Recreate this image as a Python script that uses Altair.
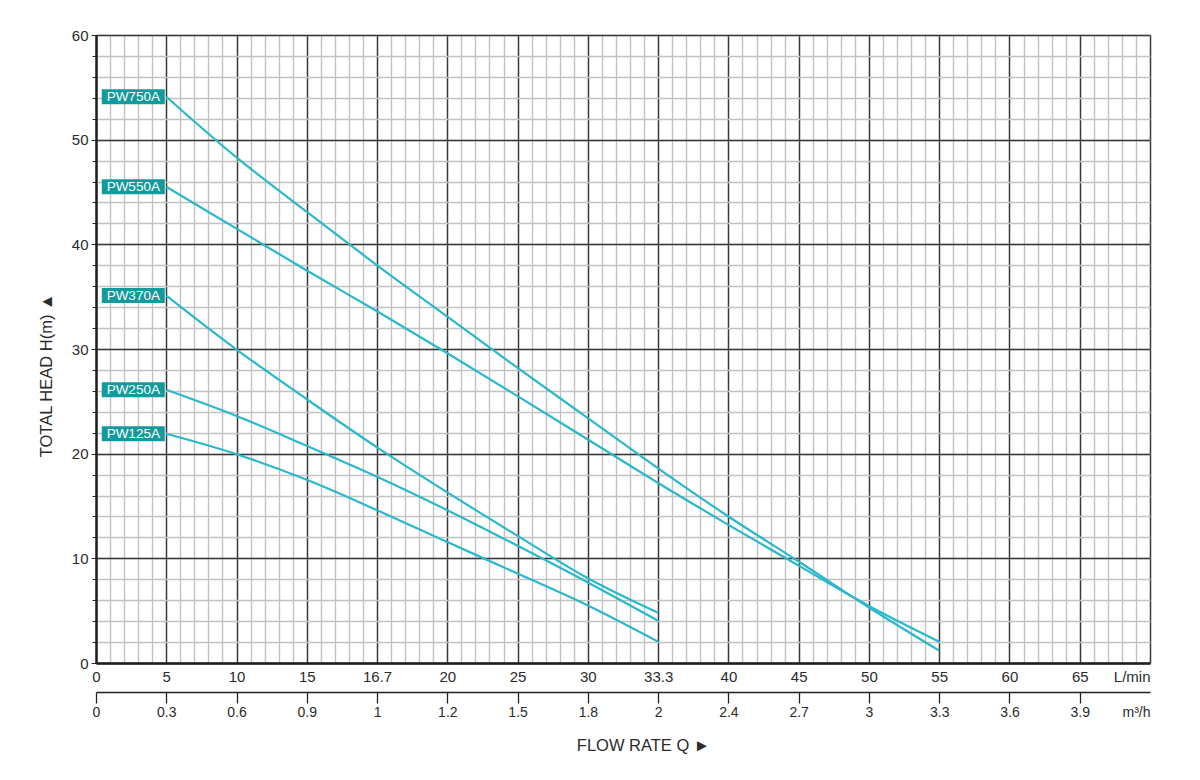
import altair as alt
import pandas as pd

# ---------------- data ----------------
pumps = ["PW750A", "PW550A", "PW370A", "PW250A", "PW125A"]

# x positions are grid-column indices (0..15) of the chart's category axis
flow_long = [1, 2, 3, 4, 5, 6, 7, 8, 9, 10, 11, 12]
flow_short = [1, 2, 3, 4, 5, 6, 7, 8]

pw750 = [54.1, 48.3, 43.1, 38.0, 33.1, 28.2, 23.4, 18.6, 14.0, 9.7, 5.3, 1.18]
pw550 = [45.5, 41.5, 37.5, 33.6, 29.6, 25.5, 21.35, 17.2, 13.2, 9.3, 5.45, 2.04]
pw370 = [35.1, 29.95, 25.2, 20.6, 16.3, 12.15, 8.1, 4.8]
pw250 = [26.1, 23.6, 20.75, 17.8, 14.6, 11.2, 7.7, 4.04]
pw125 = [21.9, 19.95, 17.5, 14.6, 11.55, 8.55, 5.5, 2.04]

lmin_labels = ["0", "5", "10", "15", "16.7", "20", "25", "30", "33.3",
               "40", "45", "50", "55", "60", "65", "L/min"]
m3h_labels = ["0", "0.3", "0.6", "0.9", "1", "1.2", "1.5", "1.8", "2",
              "2.4", "2.7", "3", "3.3", "3.6", "3.9", "m³/h"]

major_x = list(range(16))
minor_x = [i / 5 for i in range(76)]
major_y = list(range(0, 61, 10))
minor_y = list(range(0, 61, 2))

series = [
    ("PW750A", flow_long, pw750),
    ("PW550A", flow_long, pw550),
    ("PW370A", flow_short, pw370),
    ("PW250A", flow_short, pw250),
    ("PW125A", flow_short, pw125),
]
rows = []
for name, xs_, ys_ in series:
    for x, y in zip(xs_, ys_):
        rows.append({"pump": name, "pos": x, "head": y})
df = pd.DataFrame(rows)
start_df = df.groupby("pump", as_index=False).first()

# ---------------- styling ----------------
FONT = "Liberation Sans"
LINE = "#2ab8cb"
BOX = "#139a9c"
MAJOR = "#383838"
MINOR = "#c2c2c2"
TXT = "#2b2b2b"

xs = alt.Scale(domain=[0, 15], nice=False, zero=False)
ys = alt.Scale(domain=[0, 60], nice=False, zero=True)

lmin_expr = "[" + ",".join("'%s'" % l for l in lmin_labels) + "][datum.value]"
m3h_expr = "[" + ",".join("'%s'" % l for l in m3h_labels) + "][datum.value]"
last_right = {"condition": {"test": "datum.value == 15", "value": "right"}, "value": "center"}

base = alt.Chart(df)

minor = base.mark_line(opacity=0).encode(
    x=alt.X("pos:Q", scale=xs, axis=alt.Axis(
        orient="bottom", values=minor_x, grid=True, gridColor=MINOR, gridWidth=1.4,
        labels=False, ticks=False, domain=False, title=None)),
    y=alt.Y("head:Q", scale=ys, axis=alt.Axis(
        orient="left", values=minor_y, grid=True, gridColor=MINOR, gridWidth=1.4,
        labels=False, ticks=True, tickSize=4, tickColor=TXT, domain=False, title=None)),
    detail="pump:N",
)

major = base.mark_line(opacity=0).encode(
    x=alt.X("pos:Q", scale=xs, axis=alt.Axis(
        orient="bottom", values=major_x, grid=True, gridColor=MAJOR, gridWidth=1.4,
        labelExpr=lmin_expr, labelFontSize=15, labelColor=TXT, labelPadding=6,
        labelFlush=False, labelOverlap=False, labelAlign=last_right,
        ticks=False, domain=True, domainColor="#1e1e1e", domainWidth=2.4, title=None)),
    y=alt.Y("head:Q", scale=ys, axis=alt.Axis(
        orient="left", values=major_y, grid=True, gridColor=MAJOR, gridWidth=1.4,
        labelFontSize=15, labelColor=TXT, labelPadding=3, labelOverlap=False,
        ticks=True, tickSize=5, tickColor=TXT, domain=True, domainColor="#1e1e1e",
        domainWidth=2.4, title="TOTAL HEAD H(m)    ▲", titleFontSize=16.5,
        titleFontWeight="normal", titleColor=TXT, titleX=-42, titleY=340)),
    detail="pump:N",
)

second = base.mark_line(opacity=0).encode(
    x=alt.X("pos:Q", scale=xs, axis=alt.Axis(
        orient="bottom", offset=29, values=major_x, grid=False,
        labelExpr=m3h_expr, labelFontSize=14, labelColor=TXT, labelPadding=2,
        labelFlush=False, labelOverlap=False, labelAlign=last_right,
        ticks=True, tickSize=11, tickColor="#222", tickWidth=1.3,
        tickOpacity={"condition": {"test": "datum.value == 15", "value": 0}, "value": 1},
        domain=True, domainColor="#222", domainWidth=1.5,
        title="FLOW RATE Q    ►", titleFontSize=16.5, titleFontWeight="normal",
        titleColor=TXT, titleX=547, titleY=53, titleBaseline="middle")),
    y=alt.Y("head:Q", scale=ys, axis=None),
    detail="pump:N",
)

curves = base.mark_line(color=LINE, strokeWidth=2.2, interpolate="monotone").encode(
    x=alt.X("pos:Q", scale=xs, axis=None),
    y=alt.Y("head:Q", scale=ys, axis=None),
    detail="pump:N",
)

boxes = alt.Chart(start_df).mark_rect(width=63, height=15, xOffset=-33, color=BOX).encode(
    x=alt.X("pos:Q", scale=xs, axis=None),
    y=alt.Y("head:Q", scale=ys, axis=None),
)

labels = alt.Chart(start_df).mark_text(
    color="white", fontSize=13.5, font=FONT, dx=-33, dy=0.5, align="center", baseline="middle"
).encode(
    x=alt.X("pos:Q", scale=xs, axis=None),
    y=alt.Y("head:Q", scale=ys, axis=None),
    text="pump:N",
)

chart = alt.layer(minor, major, second, curves, boxes, labels).resolve_axis(
    x="independent", y="independent"
).properties(
    width=1054, height=628,
    autosize=alt.AutoSizeParams(type="none"),
    padding={"left": 88, "top": 27, "right": 40, "bottom": 110},
).configure(font=FONT).configure_view(stroke=None)

chart.save("out.html", embed_options={"renderer": "svg", "actions": False})
